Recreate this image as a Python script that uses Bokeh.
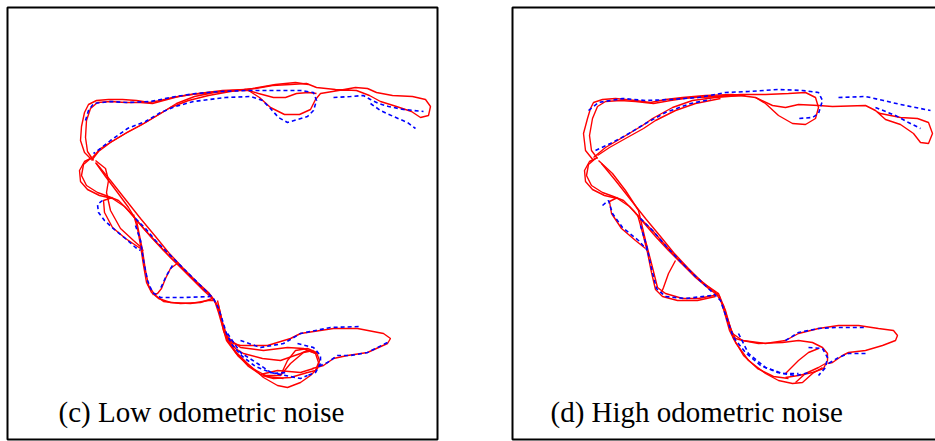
from bokeh.plotting import figure
from bokeh.layouts import row
from bokeh.models import BoxAnnotation, Label, Range1d, ColumnDataSource
from bokeh.embed import file_html
from bokeh.resources import INLINE

# Trajectory runs in map units (x to the right, y downward), one list of points per run.
# (c) low odometric noise
red_low = [
    [(91,159),(84,152),(80,140),(81,126),(84,112),(88,104),(96,100),(108,99),(122,99),(136,100),(149,102),(160,100),(172,97),(190,94),(210,92),(232,90),(248,90),(259,97),(270,107),(284,114),(299,114),(310,109),(315,99),(320,93),(338,90),(355,87),(367,88),(376,92),(392,95),(412,96),(425,99),(430,106),(428,115),(420,117),(411,111),(396,106),(380,101),(369,95),(356,90),(335,89),(316,87),(306,83),(290,84),(272,85),(255,88),(236,90),(214,92),(194,96),(176,103),(160,113),(145,122),(128,131),(113,140),(100,148),(92,157)],
    [(93,160),(87,151),(85,137),(86,120),(90,108),(97,102),(110,101),(125,102),(140,102),(152,103),(163,100),(178,96),(198,93),(222,90),(245,89),(258,93),(273,97),(285,97),(296,93),(308,92),(316,93)],
    [(308,84),(295,82),(275,84),(252,88),(230,91),(208,95),(188,100),(170,107),(155,116),(140,125),(125,133),(110,142),(98,151),(91,160)],
    [(92,157),(84,161),(79,170),(80,181),(87,189),(99,195),(112,198),(124,206),(133,216),(145,230),(158,244),(170,257),(184,270),(198,284),(210,295),(216,303),(220,315),(223,330),(228,342),(236,352),(247,363),(263,377),(277,385),(287,387),(300,382),(310,375),(317,368),(319,360),(316,352),(307,348),(295,350),(287,360),(280,375)],
    [(95,162),(105,176),(117,192),(128,207),(136,220),(139,235),(142,250),(145,270),(148,285),(154,294),(163,301),(180,303),(200,302),(212,298),(215,302)],
    [(133,214),(137,228),(140,245),(143,265),(146,282),(151,292),(158,298),(170,302),(190,303),(208,300),(214,300)],
    [(178,262),(170,268),(165,278),(161,288),(157,293),(152,294)],
    [(112,197),(103,200),(104,212),(112,227),(125,238),(137,246),(143,250)],
    [(95,160),(105,168),(108,180),(106,192),(110,210),(120,228),(133,240),(142,248)],
    [(90,158),(83,164),(81,175),(86,185),(97,192),(108,196),(118,200),(128,210),(138,222),(150,236),(163,250),(176,263),(190,277),(203,290),(212,298)],
    [(217,300),(221,318),(224,332),(233,343),(240,345),(267,345),(290,338),(300,333),(333,328),(357,328),(383,333),(390,338),(387,343),(367,352),(347,355),(333,358),(323,365),(312,368)],
    [(218,305),(222,322),(227,337),(240,347),(263,350),(287,347),(303,348),(315,353),(318,362),(315,370),(307,372),(290,377),(273,378),(262,375)],
    [(226,336),(235,348),(243,353),(262,358),(280,360),(300,353),(307,350),(317,353)],
    [(262,375),(280,375),(290,363),(303,352),(313,350)],
    [(225,335),(235,352),(248,366),(260,374),(277,370),(300,372),(313,368)],
    [(96,163),(110,180),(125,199),(140,218),(155,236),(168,252),(182,267),(196,281),(208,292),(214,300),(218,312),(222,326),(226,340),(238,356),(252,368),(267,376),(283,378)],
]
blue_low = [
    [(85,120),(88,110),(93,103),(110,101),(127,102),(150,101),(175,96),(195,93),(220,91),(247,90),(277,90),(300,90),(313,92),(316,100),(313,110),(307,116),(297,119),(287,122),(278,117),(270,108),(262,100),(250,96),(225,97),(193,101),(175,106),(160,112),(145,121),(127,128),(110,140),(100,148),(93,153)],
    [(333,97),(350,96),(363,95),(370,99),(378,103),(388,106),(403,109),(423,111)],
    [(370,103),(380,110),(393,116),(407,122),(415,128)],
    [(102,200),(97,204),(98,212),(104,220),(115,230),(125,238),(135,247),(140,250)],
    [(135,218),(145,228),(155,240),(165,250),(175,260),(190,275),(205,290),(213,298),(218,308),(222,320),(226,333),(232,345),(242,356),(255,366),(270,372),(285,375),(300,378),(307,375)],
    [(135,225),(140,240),(143,260),(147,280),(152,292),(160,297),(183,297),(210,296)],
    [(172,265),(166,275),(160,288)],
    [(240,340),(260,347),(283,343),(300,333),(330,327),(360,326)],
    [(387,342),(367,352),(350,355),(337,355),(327,362),(318,366)],
    [(297,343),(313,347),(320,355),(320,363),(315,372),(307,375)],
    [(227,333),(240,352),(257,363),(272,373),(287,372)],
]

# (d) high odometric noise
red_high = [
    [(88,160),(80,150),(78,133),(82,118),(85,108),(88,102),(97,99),(110,98),(130,100),(145,102),(160,99),(177,97),(200,95),(227,94),(250,97),(267,105),(280,107),(293,104),(313,105),(327,106),(360,105),(370,110),(380,119),(395,124),(408,133),(415,142),(423,143),(427,133),(423,122),(412,118),(395,117),(375,113),(360,105)],
    [(250,97),(260,103),(273,115),(287,123),(300,124),(310,118),(313,107),(310,97),(300,92),(283,93),(260,94),(235,94),(210,96),(187,97),(165,99)],
    [(92,158),(86,150),(84,135),(87,118),(92,106),(100,101),(115,100),(130,101),(148,103),(165,100),(185,97),(210,96),(240,95)],
    [(88,157),(100,147),(117,137),(137,125),(147,118),(167,107),(187,100),(210,97),(235,95)],
    [(92,155),(104,147),(120,138),(138,128),(150,120),(170,110),(190,103),(215,98)],
    [(92,157),(84,161),(79,170),(80,181),(87,189),(99,195),(112,198),(124,206),(133,216),(147,230),(160,245),(172,258),(187,273),(200,284),(213,293),(220,310),(225,328),(230,342),(243,360),(260,373),(273,380),(287,383),(297,382),(307,373),(317,367)],
    [(93,160),(107,173),(120,190),(133,210),(140,240),(147,267),(152,287),(160,293),(177,298),(193,298),(208,295),(213,293)],
    [(132,214),(137,232),(142,252),(146,272),(150,289),(157,296),(172,300),(192,300),(210,296)],
    [(170,260),(163,273),(158,287),(156,292)],
    [(112,197),(104,201),(106,213),(116,228),(130,240),(140,248)],
    [(90,158),(83,164),(81,175),(86,185),(97,192),(108,196),(118,200),(128,210),(138,222),(150,236),(163,250),(176,263),(190,277),(203,288),(214,296),(219,312),(224,330),(229,340)],
    [(222,318),(227,333),(237,340),(260,343),(280,340),(293,333),(313,328),(333,325),(353,325),(373,328),(388,330),(392,335),(390,340),(377,345),(360,350),(343,352),(337,355),(327,362),(322,363)],
    [(225,328),(230,338),(237,340),(253,343),(277,342),(293,340),(307,342),(317,347),(322,353),(322,360),(318,368),(307,372),(293,375),(280,377)],
    [(280,373),(293,360),(303,352),(313,348)],
    [(290,382),(300,373),(313,367),(320,363)],
    [(96,163),(110,180),(125,199),(140,218),(155,236),(168,252),(182,267),(196,281),(210,292),(218,305),(223,322),(228,338),(238,355),(252,368),(268,376),(283,378)],
]
blue_high = [
    [(83,110),(93,102),(117,98),(140,100),(165,99),(193,97),(220,92),(243,91),(273,89),(297,90),(313,92),(317,100),(313,113),(307,117),(293,118)],
    [(333,97),(360,96),(378,100),(395,104),(425,110)],
    [(370,107),(390,115),(403,122),(415,128)],
    [(90,150),(105,143),(120,135),(140,123),(160,112),(185,103),(205,99)],
    [(97,205),(103,200),(107,213),(117,227),(133,240),(142,250)],
    [(135,218),(147,230),(160,245),(172,258),(187,273),(205,290),(215,300),(222,320),(228,337),(240,352),(255,365),(272,372),(290,375),(305,372)],
    [(135,225),(141,245),(146,268),(151,288),(160,296),(180,298),(206,295)],
    [(280,340),(293,332),(313,328),(330,327),(360,327)],
    [(360,353),(343,353),(333,357),(323,363)],
    [(303,347),(317,348),(322,357),(320,367),(313,375)],
    [(233,333),(243,353),(260,367),(277,373),(293,373)],
]

def to_source(runs):
    return ColumnDataSource(dict(xs=[[p[0] for p in r] for r in runs],
                                 ys=[[p[1] for p in r] for r in runs]))

def panel(width, left_pad, x_end, red, blue, caption, caption_x):
    x_start = 5
    frame_w = x_end - x_start
    p = figure(width=width, height=441,
               x_range=Range1d(x_start, x_end), y_range=Range1d(441, 5),
               output_backend="svg", toolbar_location=None,
               x_axis_location=None, y_axis_location=None,
               min_border_left=left_pad, min_border_right=width - left_pad - frame_w,
               min_border_top=5, min_border_bottom=0)
    p.grid.visible = False
    p.outline_line_color = None
    p.background_fill_color = "white"
    p.border_fill_color = "white"
    p.multi_line("xs", "ys", source=to_source(red), line_color="#ff0000", line_width=1.4)
    p.multi_line("xs", "ys", source=to_source(blue), line_color="#0000ff",
                 line_width=1.6, line_dash="4 3")
    p.add_layout(BoxAnnotation(left=7, right=437, top=7, bottom=439,
                               fill_color=None, fill_alpha=0,
                               line_color="black", line_alpha=1, line_width=2))
    p.add_layout(Label(x=caption_x, y=411.7, text=caption, text_font="Liberation Serif",
                       text_font_size="29px", text_baseline="alphabetic",
                       text_color="black"))
    return p

left = panel(475, 5, 439, red_low, blue_low, "(c) Low odometric noise", 58)
right = panel(460, 35, 430, red_high, blue_high, "(d) High odometric noise", 45)

layout = row(left, right, spacing=0)
open("out.html", "w").write(file_html(layout, INLINE))
